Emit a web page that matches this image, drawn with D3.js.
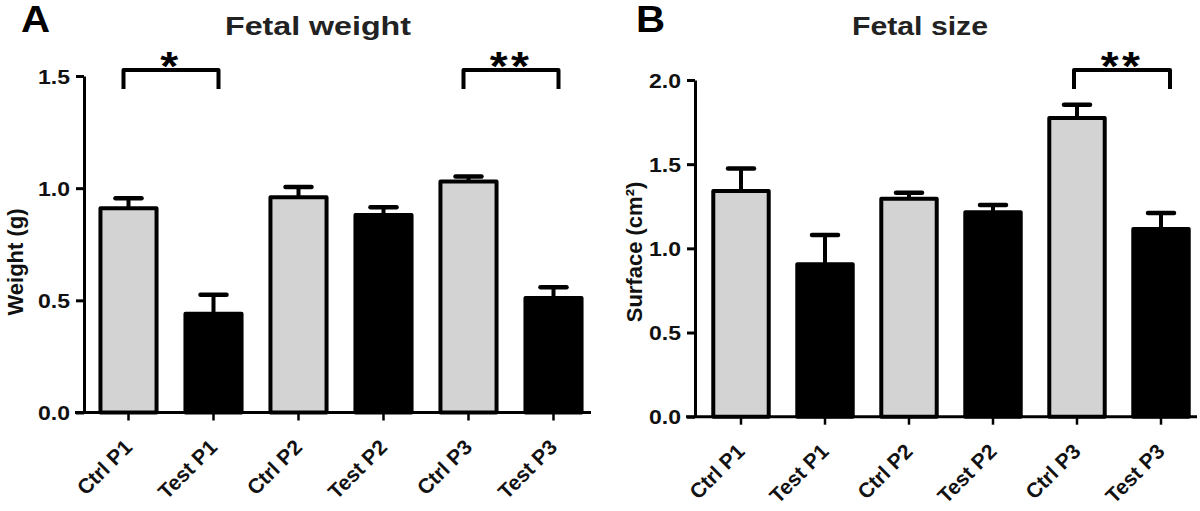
<!DOCTYPE html>
<html><head><meta charset="utf-8">
<script src="https://cdn.jsdelivr.net/npm/d3@7"></script>
<style>body{margin:0;background:#fff} svg{display:block}</style>
</head><body><svg id="c" width="1200" height="511"></svg>
<script>
// ---- data ----
const categories = ["Ctrl P1","Test P1","Ctrl P2","Test P2","Ctrl P3","Test P3"];
const groupType = ["ctrl","test","ctrl","test","ctrl","test"];
const weightMean = [0.91, 0.44, 0.96, 0.88, 1.03, 0.51];
const weightErr  = [0.045, 0.085, 0.045, 0.035, 0.022, 0.048];
const sizeMean   = [1.34, 0.905, 1.295, 1.215, 1.775, 1.115];
const sizeErr    = [0.135, 0.175, 0.036, 0.043, 0.078, 0.095];
const weightTicks = [0.0, 0.5, 1.0, 1.5];
const sizeTicks   = [0.0, 0.5, 1.0, 1.5, 2.0];
const weightSig = [{from:0, to:1, label:"*"}, {from:4, to:5, label:"**"}];
const sizeSig   = [{from:4, to:5, label:"**"}];
const panelLetters = ["A", "B"];
const titles = ["Fetal weight", "Fetal size"];
const yTitles = ["Weight (g)", "Surface (cm²)"];

// ---- layout ----
const FONT = "'Liberation Sans', Arial, sans-serif";
const colors = {ctrl: "#d3d3d3", test: "#000000"};
const panels = [
  {mean: weightMean, err: weightErr, ticks: weightTicks, sig: weightSig, ymax: 1.5,
   axisX: 84, y0: 412.5, yTop: 76, band: [86, 596], xEnd: 591,
   letterX: 21, titleX: 225, titleW: 186, yTitleX: 23, yTitleY: 262, bracketOff: [-5, 5]},
  {mean: sizeMean, err: sizeErr, ticks: sizeTicks, sig: sizeSig, ymax: 2.0,
   axisX: 695, y0: 416.7, yTop: 80, band: [699, 1203], xEnd: 1197,
   letterX: 636, titleX: 852, titleW: 136, yTitleX: 642, yTitleY: 252, bracketOff: [-3, 9]}
];
const svg = d3.select("#c");

function stretch(sel, k) {
  sel.each(function() {
    const len = this.getComputedTextLength();
    d3.select(this).attr("textLength", len * k).attr("lengthAdjust", "spacingAndGlyphs");
  });
}

panels.forEach((p, pi) => {
  const g = svg.append("g");
  const x = d3.scaleBand().domain(categories).range(p.band).paddingInner(0.34).paddingOuter(0.17);
  const y = d3.scaleLinear().domain([0, p.ymax]).range([p.y0, p.yTop]);

  // bars
  const rows = categories.map((c, i) => ({c, v: p.mean[i], e: p.err[i], t: groupType[i]}));
  g.selectAll("rect.bar").data(rows).join("rect").attr("class", "bar")
    .attr("x", d => x(d.c)).attr("width", x.bandwidth())
    .attr("y", d => y(d.v)).attr("height", d => y(0) - y(d.v))
    .attr("fill", d => colors[d.t]).attr("stroke", "#000").attr("stroke-width", 4)
    .attr("stroke-linejoin", "round");

  // error bars (upper)
  const cx = d => x(d.c) + x.bandwidth() / 2;
  g.selectAll("line.ew").data(rows).join("line")
    .attr("x1", cx).attr("x2", cx).attr("y1", d => y(d.v)).attr("y2", d => y(d.v + d.e))
    .attr("stroke", "#000").attr("stroke-width", 4);
  g.selectAll("line.ec").data(rows).join("line")
    .attr("x1", d => cx(d) - 13).attr("x2", d => cx(d) + 13)
    .attr("y1", d => y(d.v + d.e)).attr("y2", d => y(d.v + d.e))
    .attr("stroke", "#000").attr("stroke-width", 4.5).attr("stroke-linecap", "round");

  // y axis
  const ya = g.append("g").attr("transform", `translate(${p.axisX},0)`)
    .call(d3.axisLeft(y).tickValues(p.ticks).tickFormat(d3.format(".1f")).tickSize(8).tickSizeOuter(0).tickPadding(6));
  ya.select(".domain").attr("stroke-width", 3);
  ya.selectAll(".tick line").attr("stroke-width", 3);
  ya.selectAll(".tick text").attr("font-family", FONT).attr("font-size", 20).attr("font-weight", "bold")
    .attr("fill", "#111").attr("dy", "0.36em").call(stretch, 1.15);

  // x axis
  g.append("line").attr("x1", p.axisX - 9).attr("x2", p.xEnd).attr("y1", p.y0).attr("y2", p.y0)
    .attr("stroke", "#000").attr("stroke-width", 3);
  const xa = g.append("g").attr("transform", `translate(0,${p.y0})`)
    .call(d3.axisBottom(x).tickSize(8).tickSizeOuter(0).tickFormat(""));
  xa.select(".domain").remove();
  xa.selectAll(".tick line").attr("stroke-width", 2.5);
  g.selectAll("text.xl").data(categories).join("text").attr("class", "xl")
    .attr("transform", c => `translate(${x(c) + x.bandwidth() / 2 + 5},${p.y0 + 36}) rotate(-45)`)
    .attr("text-anchor", "end").attr("font-family", FONT).attr("font-size", 21).attr("font-weight", "bold")
    .attr("fill", "#111").text(c => c);

  // y title
  g.append("text").attr("transform", `translate(${p.yTitleX},${p.yTitleY}) rotate(-90)`)
    .attr("text-anchor", "middle").attr("font-family", FONT).attr("font-size", 22).attr("font-weight", "bold")
    .attr("fill", "#111").text(yTitles[pi]);

  // title & letter
  g.append("text").attr("x", p.titleX).attr("y", 35).attr("font-family", FONT).attr("font-size", 26)
    .attr("font-weight", "bold").attr("fill", "#222").attr("textLength", p.titleW).attr("lengthAdjust", "spacingAndGlyphs")
    .text(titles[pi]);
  g.append("text").attr("x", p.letterX).attr("y", 32).attr("font-family", FONT).attr("font-size", 36)
    .attr("font-weight", "bold").text(panelLetters[pi]).call(stretch, 1.12);

  // significance brackets
  p.sig.forEach(s => {
    const xa1 = x(categories[s.from]) + x.bandwidth() / 2 + p.bracketOff[0];
    const xb1 = x(categories[s.to]) + x.bandwidth() / 2 + p.bracketOff[1];
    const top = 70, bot = 89;
    g.append("path").attr("d", `M${xa1},${bot}V${top}H${xb1}V${bot}`)
      .attr("fill", "none").attr("stroke", "#000").attr("stroke-width", 4).attr("stroke-linejoin", "round");
    g.append("text").attr("x", (xa1 + xb1) / 2).attr("y", 80).attr("text-anchor", "middle")
      .attr("font-family", FONT).attr("font-size", 40).attr("font-weight", "bold")
      .attr("letter-spacing", 3).text(s.label).call(stretch, 1.15);
  });
});
</script></body></html>
